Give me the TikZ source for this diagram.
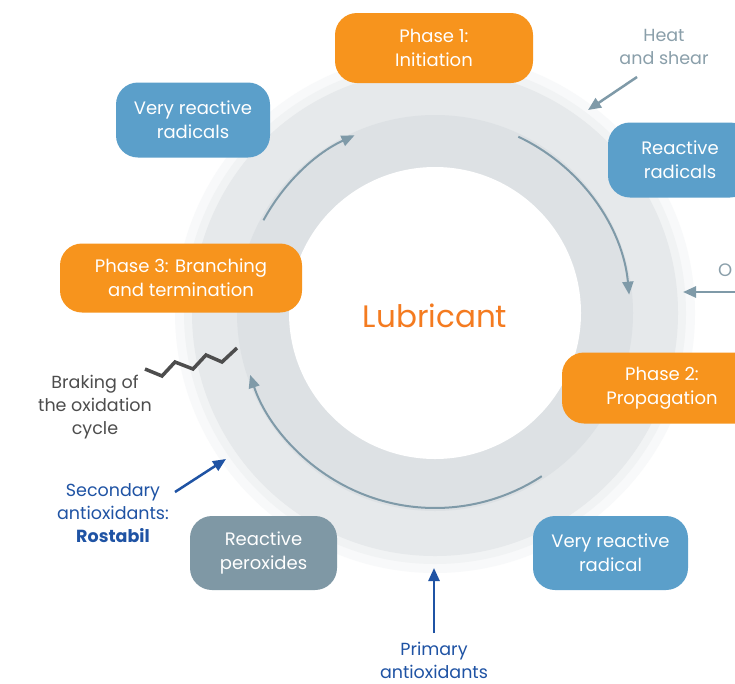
\documentclass[tikz,border=0pt]{standalone}
\usepackage{fontspec}
\setmainfont{Poppins}
\usetikzlibrary{arrows.meta}
\definecolor{phaseorange}{HTML}{F7941D}
\definecolor{lubeorange}{HTML}{F47B20}
\definecolor{radblue}{HTML}{5B9FCA}
\definecolor{perogray}{HTML}{7F98A5}
\definecolor{ringarrow}{HTML}{7F9AA8}
\definecolor{heatgray}{HTML}{8A9FAA}
\definecolor{braketext}{HTML}{4D4D4D}
\definecolor{antiblue}{HTML}{1F53A4}
\definecolor{haloA}{HTML}{F8F9FA}
\definecolor{haloB}{HTML}{F1F3F4}
\definecolor{ringouter}{HTML}{E6E9EB}
\definecolor{ringinner}{HTML}{DDE1E4}
\tikzset{
  box/.style={rounded corners=22pt, text=white, align=center, font=\fontsize{18}{24}\selectfont, inner sep=0pt},
  phasebox/.style={box, fill=phaseorange},
  radbox/.style={box, fill=radblue},
  perobox/.style={box, fill=perogray},
  ringarc/.style={draw=ringarrow, line width=2pt, -{Triangle[length=13pt,width=11pt]}},
  sidearrow/.style={line width=2.5pt, -{Triangle[length=13pt,width=11pt]}},
  sidetext/.style={align=center, font=\fontsize{17.5}{23}\selectfont, inner sep=0pt}
}
\begin{document}
\begin{tikzpicture}[x=1pt,y=-1pt]
\useasboundingbox (0,0) rectangle (735,683);
\clip (0,0) rectangle (735,683);
\fill[white] (0,0) rectangle (735,683);
% ring
\coordinate (C) at (435,313);
\fill[haloA] (C) circle[radius=260pt];
\fill[haloB] (C) circle[radius=251pt];
\fill[ringouter] (C) circle[radius=243pt];
\fill[ringinner] (C) circle[radius=198pt];
\fill[white] (C) circle[radius=146pt];
\node[text=lubeorange, font=\fontsize{31}{34}\selectfont, inner sep=0pt] (lube) at (435,316) {Lubricant};
% ring arrows
\draw[ringarc] (C) ++(151.6:195pt) arc[start angle=151.6, end angle=114.4, radius=195pt];
\draw[ringarc] (C) ++(64.7:195pt) arc[start angle=64.7, end angle=5.4, radius=195pt];
\draw[ringarc] (C) ++(-56.8:195pt) arc[start angle=-56.8, end angle=-161.5, radius=195pt];
% boxes
\node[phasebox, minimum width=198pt, minimum height=70pt] (p1) at (434,48) {Phase 1:\\Initiation};
\node[radbox, minimum width=154pt, minimum height=75pt] (vrr1) at (193,120) {Very reactive\\radicals};
\node[radbox, minimum width=144pt, minimum height=75pt] (rr) at (680,160) {Reactive\\radicals};
\node[phasebox, minimum width=242pt, minimum height=69pt] (p3) at (181,278) {Phase 3: Branching\\and termination};
\node[phasebox, minimum width=200pt, minimum height=71pt] (p2) at (662,388) {Phase 2:\\Propagation};
\node[perobox, minimum width=147pt, minimum height=74pt] (rp) at (263.5,553) {Reactive\\peroxides};
\node[radbox, minimum width=155pt, minimum height=74pt] (vrr2) at (610.5,553) {Very reactive\\radical};
% heat and shear
\node[sidetext, text=heatgray] (heat) at (664,47) {Heat\\and shear};
\coordinate (heatend) at (588,110);
\draw[sidearrow, draw=ringarrow] (637,77) -- (heatend);
% O
\node[sidetext, text=heatgray, anchor=west, font=\fontsize{18}{22}\selectfont] (oxy) at (718,270) {O};
\coordinate (oxyend) at (683,292);
\draw[sidearrow, draw=ringarrow] (735,292) -- (oxyend);
% braking
\node[sidetext, text=braketext] (brake) at (95,407) {Braking of\\the oxidation\\cycle};
\draw[draw=braketext, line width=3.5pt, line join=miter] (145,369) -- (162,376) -- (175,362) -- (193,369) -- (206,355) -- (222,362) -- (237,348);
% secondary antioxidants
\node[sidetext, text=antiblue] (sec) at (113,513) {Secondary\\antioxidants:\\\textbf{Rostabil}};
\coordinate (secend) at (226,459);
\draw[sidearrow, draw=antiblue] (175,492) -- (secend);
% primary antioxidants
\node[sidetext, text=antiblue] (prim) at (434,660) {Primary\\antioxidants};
\coordinate (primend) at (434,568);
\draw[sidearrow, draw=antiblue] (434,633) -- (primend);
\end{tikzpicture}
\end{document}
